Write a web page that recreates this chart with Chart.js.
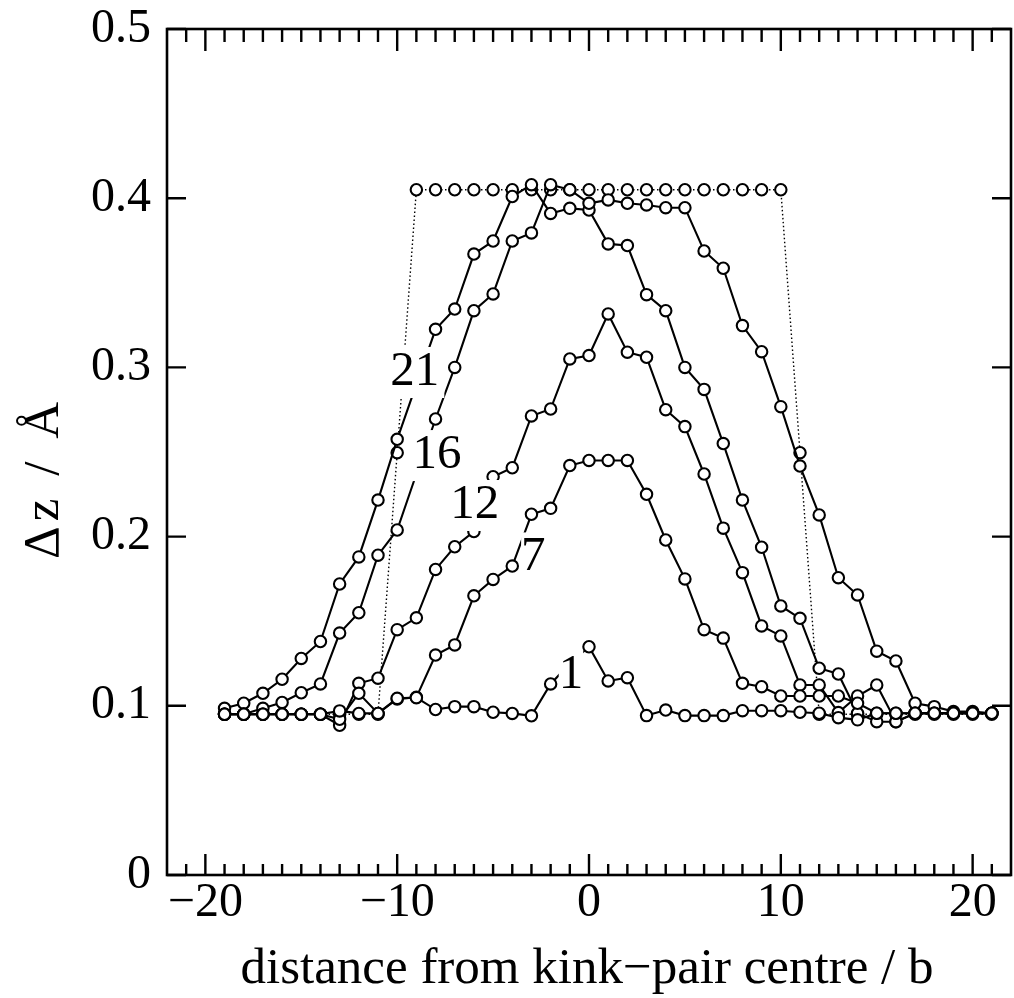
<!DOCTYPE html>
<html><head><meta charset="utf-8">
<script src="https://cdn.jsdelivr.net/npm/chart.js@4"></script>
<style>html,body{margin:0;padding:0;background:#fff}</style>
</head><body>
<canvas id="c" width="1014" height="998"></canvas>
<script>
// distance from kink-pair centre (units of b)
const positions = [-19,-18,-17,-16,-15,-14,-13,-12,-11,-10,-9,-8,-7,-6,-5,-4,-3,-2,-1,0,1,2,3,4,5,6,7,8,9,10,11,12,13,14,15,16,17,18,19,20,21];
// Δz (Å) for each labelled profile
const prof1  = [0.095,0.095,0.095,0.095,0.095,0.095,0.097,0.0955,0.0955,0.1044,0.1048,0.0978,0.0995,0.0995,0.0962,0.0955,0.0941,0.1129,0.125,0.1349,0.1147,0.1166,0.0942,0.0975,0.0942,0.0942,0.0942,0.0971,0.0971,0.0971,0.0962,0.0956,0.093,0.0917,0.0956,0.0956,0.0956,0.0956,0.0956,0.0956,0.0956];
const prof7  = [0.095,0.095,0.095,0.095,0.095,0.095,0.092,0.1074,0.0955,0.104,0.105,0.130,0.136,0.165,0.1747,0.1826,0.2132,0.2167,0.242,0.245,0.245,0.245,0.225,0.198,0.175,0.145,0.140,0.1133,0.1113,0.1058,0.1058,0.1058,0.1058,0.1015,0.0956,0.0956,0.0956,0.0956,0.0956,0.0956,0.0956];
const prof12 = [0.095,0.095,0.095,0.095,0.095,0.095,0.0885,0.1133,0.1163,0.145,0.152,0.1806,0.194,0.203,0.2354,0.2407,0.2713,0.2754,0.305,0.307,0.3316,0.309,0.306,0.275,0.265,0.237,0.205,0.1787,0.1472,0.1413,0.1123,0.1123,0.096,0.1058,0.1123,0.0906,0.0956,0.0956,0.0956,0.0956,0.0956];
const prof16 = [0.095,0.095,0.0985,0.102,0.1077,0.1129,0.143,0.155,0.189,0.2039,0.237,0.2695,0.300,0.3335,0.3434,0.3747,0.3795,0.408,0.405,0.397,0.399,0.397,0.396,0.3944,0.3944,0.3688,0.3586,0.3247,0.3093,0.2768,0.2417,0.2128,0.1757,0.1655,0.1323,0.1265,0.1015,0.0995,0.0966,0.0966,0.0956];
const prof21 = [0.0985,0.1015,0.1074,0.1157,0.128,0.138,0.172,0.188,0.2216,0.2575,0.29,0.3225,0.3345,0.367,0.3747,0.401,0.408,0.391,0.394,0.393,0.373,0.372,0.343,0.3335,0.300,0.287,0.255,0.2216,0.1937,0.159,0.1517,0.1222,0.1188,0.0956,0.0906,0.0906,0.0956,0.0956,0.0956,0.0956,0.0956];
// ideal (square) profile, dotted
const profIdeal = [0.095,0.095,0.095,0.095,0.095,0.095,0.095,0.095,0.095,0.2496,0.405,0.405,0.405,0.405,0.405,0.405,0.405,0.405,0.405,0.405,0.405,0.405,0.405,0.405,0.405,0.405,0.405,0.405,0.405,0.405,0.2496,0.095,0.095,0.095,0.095,0.095,0.095,0.095,0.095,0.095,0.095];

const xTicks = [-20,-10,0,10,20];
const yTicks = [0,0.1,0.2,0.3,0.4,0.5];
const xMinor = [-21,-19,-18,-17,-16,-15,-14,-13,-12,-11,-9,-8,-7,-6,-5,-4,-3,-2,-1,1,2,3,4,5,6,7,8,9,11,12,13,14,15,16,17,18,19,21];
const curveLabels = [
  {text:'21', x:-9.08, y:0.2896},
  {text:'16', x:-7.93, y:0.2405},
  {text:'12', x:-5.96, y:0.211},
  {text:'7',  x:-2.9,  y:0.180},
  {text:'1',  x:-0.94, y:0.1105}
];
const xTitle = 'distance from kink\u2212pair centre / b';
const yTitle = '\u0394z / \u00C5';

const FONT = '"Liberation Serif", "Times New Roman", serif';
const pts = arr => positions.map((x,i)=>({x:x, y:arr[i]}));
const solid = arr => ({data:pts(arr), borderColor:'#000', borderWidth:2.1, pointRadius:5.7, pointBorderWidth:2.1, pointBackgroundColor:'#fff', pointBorderColor:'#000', fill:false, tension:0});

const framePlugin = {
  id:'frame',
  afterDatasetsDraw(chart){
    const ctx = chart.ctx, a = chart.chartArea;
    const xs = chart.scales.x, ys = chart.scales.y;
    ctx.save();
    // curve labels with opaque boxes
    ctx.font = '49px ' + FONT;
    ctx.textBaseline = 'alphabetic';
    ctx.textAlign = 'center';
    curveLabels.forEach(l=>{
      const px = xs.getPixelForValue(l.x), py = ys.getPixelForValue(l.y);
      const w = ctx.measureText(l.text).width;
      const pad = l.text.length > 1 ? 5 : 0;
      ctx.fillStyle = '#fff';
      ctx.fillRect(px - w/2 - pad, py - 38, w + 2*pad, 51);
      ctx.fillStyle = '#000';
      ctx.fillText(l.text, px, py);
    });
    // frame
    ctx.strokeStyle = '#000';
    ctx.lineWidth = 2.6;
    ctx.strokeRect(a.left, a.top, a.right - a.left, a.bottom - a.top);
    // inward ticks on all four sides
    ctx.lineWidth = 2.4;
    ctx.beginPath();
    xTicks.forEach(v=>{ const p = xs.getPixelForValue(v);
      ctx.moveTo(p, a.bottom); ctx.lineTo(p, a.bottom - 21);
      ctx.moveTo(p, a.top); ctx.lineTo(p, a.top + 22); });
    xMinor.forEach(v=>{ const p = xs.getPixelForValue(v);
      ctx.moveTo(p, a.bottom); ctx.lineTo(p, a.bottom - 11);
      ctx.moveTo(p, a.top); ctx.lineTo(p, a.top + 13); });
    yTicks.forEach(v=>{ const p = ys.getPixelForValue(v);
      ctx.moveTo(a.left, p); ctx.lineTo(a.left + 19, p);
      ctx.moveTo(a.right, p); ctx.lineTo(a.right - 19, p); });
    ctx.stroke();
    // axis titles
    ctx.fillStyle = '#000';
    ctx.font = '51px ' + FONT;
    ctx.textAlign = 'center';
    ctx.textBaseline = 'alphabetic';
    ctx.fillText(xTitle, (a.left + a.right)/2 - 2, 983);
    ctx.translate(58, 478);
    ctx.rotate(-Math.PI/2);
    ctx.letterSpacing = '5px';
    ctx.fillText(yTitle, 0, 0);
    ctx.restore();
  }
};

new Chart(document.getElementById('c'), {
  type:'line',
  data:{datasets:[
    solid(prof1), solid(prof7), solid(prof12), solid(prof16), solid(prof21),
    Object.assign(solid(profIdeal), {borderWidth:1.4, borderDash:[1.5,2.5]})
  ]},
  options:{
    responsive:false, animation:false, devicePixelRatio:1,
    layout:{autoPadding:false, padding:{left:0, right:3, top:29, bottom:0}},
    plugins:{legend:{display:false}, tooltip:{enabled:false}},
    scales:{
      x:{type:'linear', min:-22, max:22,
        afterBuildTicks: s => { s.ticks = xTicks.map(v=>({value:v})); },
        afterFit: s => { s.height = 123; s.paddingLeft = 0; s.paddingRight = 0; },
        grid:{display:false, drawTicks:false}, border:{display:false},
        ticks:{font:{family:FONT, size:48}, color:'#000', padding:0, maxRotation:0, autoSkip:false,
          callback: v => v < 0 ? '\u2212' + Math.abs(v) : String(v)}},
      y:{type:'linear', min:0, max:0.5,
        afterBuildTicks: s => { s.ticks = yTicks.map(v=>({value:v})); },
        afterFit: s => { s.width = 167; s.paddingTop = 0; s.paddingBottom = 0; },
        grid:{display:false, drawTicks:false}, border:{display:false},
        ticks:{font:{family:FONT, size:48}, color:'#000', padding:16,
          callback: v => v === 0 ? '0' : v.toFixed(1)}}
    }
  },
  plugins:[framePlugin]
});
</script>
</body></html>
